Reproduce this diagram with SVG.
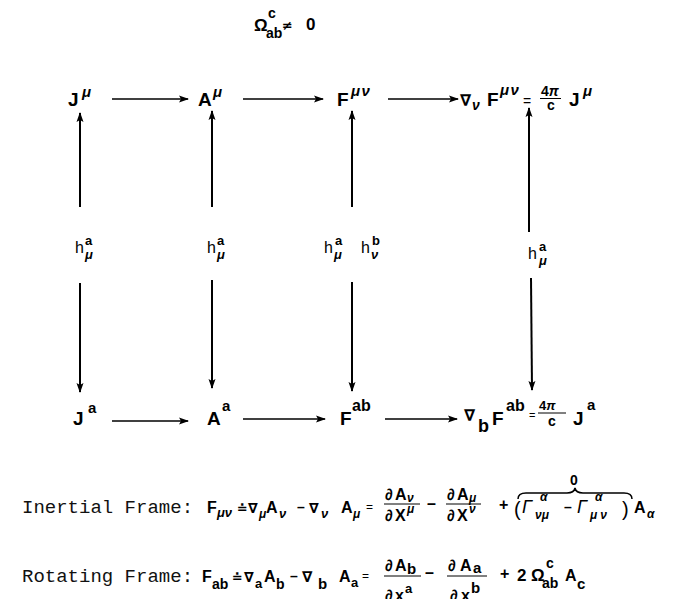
<svg xmlns="http://www.w3.org/2000/svg" width="675" height="599" viewBox="0 0 675 599">
<style>
text{fill:#000}
.m{font-family:"Liberation Sans","DejaVu Sans",sans-serif;font-weight:bold}
.r{font-family:"Liberation Sans","DejaVu Sans",sans-serif}
.d{font-family:"DejaVu Sans","Liberation Sans",sans-serif;font-weight:bold}
.i{font-style:italic}
.tt{font-family:"Liberation Mono","Courier New",monospace;font-size:19px;fill:#111}
.c line{stroke:#000;fill:none}
.hz{stroke-width:1.5}
.vt{stroke-width:2}
.bar{stroke:#000;stroke-width:1}
</style>
<defs>
<marker id="ah" markerWidth="10" markerHeight="8" refX="9" refY="4" orient="auto" markerUnits="userSpaceOnUse">
<path d="M0,0.5 L10,4 L0,7.5 L2,4 z" fill="#000"/>
</marker>
</defs>

<g id="title">
<text class="m" x="254" y="31" font-size="17">Ω</text>
<text class="m" x="268" y="18" font-size="14">c</text>
<text class="m" x="266" y="38" font-size="14">ab</text>
<text class="d" x="282" y="30" font-size="13" font-weight="normal">≠</text>
<text class="m" x="306" y="30" font-size="17">0</text>
</g>

<g id="n-J-mu">
<text class="m" x="68" y="106" font-size="19">J</text>
<text class="m i" x="82" y="97" font-size="15">μ</text>
</g>
<g id="n-A-mu">
<text class="m" x="198" y="106" font-size="19">A</text>
<text class="m i" x="213" y="97" font-size="15">μ</text>
</g>
<g id="n-F-munu">
<text class="m" x="337" y="106" font-size="19">F</text>
<text class="m i" x="351" y="96" font-size="15" letter-spacing="1.5">μν</text>
</g>
<g id="n-maxwell-mu">
<text class="d" x="460" y="106" font-size="16">∇</text>
<text class="m i" x="472" y="110" font-size="14">ν</text>
<text class="m" x="487" y="106" font-size="19">F</text>
<text class="m i" x="500" y="95" font-size="15" letter-spacing="1.5">μν</text>
<text class="r" x="523" y="106" font-size="14">=</text>
<text class="m" x="541" y="96" font-size="14">4<tspan class="i">π</tspan></text>
<line class="bar" x1="540" y1="98.5" x2="561" y2="98.5" stroke-width="1.5"/>
<text class="m" x="547" y="110" font-size="14">c</text>
<text class="m" x="569" y="106" font-size="19">J</text>
<text class="m i" x="583" y="96" font-size="15">μ</text>
</g>

<g id="n-J-a">
<text class="m" x="73" y="425" font-size="19">J</text>
<text class="m" x="88" y="413" font-size="15">a</text>
</g>
<g id="n-A-a">
<text class="m" x="207" y="425" font-size="19">A</text>
<text class="m" x="222" y="411" font-size="15">a</text>
</g>
<g id="n-F-ab">
<text class="m" x="340" y="425" font-size="19">F</text>
<text class="m" x="352" y="411" font-size="16">ab</text>
</g>
<g id="n-maxwell-a">
<text class="d" x="464" y="421" font-size="16">∇</text>
<text class="m" x="478" y="432" font-size="18">b</text>
<text class="m" x="492" y="425" font-size="19">F</text>
<text class="m" x="506" y="411" font-size="16">ab</text>
<text class="r" x="529" y="419" font-size="11">=</text>
<text class="m" x="539" y="410" font-size="13">4<tspan class="i">π</tspan></text>
<line class="bar" x1="538" y1="413" x2="566" y2="413" stroke-width="1.5"/>
<text class="m" x="548" y="426" font-size="14">c</text>
<text class="m" x="573" y="425" font-size="19">J</text>
<text class="m" x="587" y="410" font-size="15">a</text>
</g>

<g id="l-h1">
<text class="r" x="75" y="253" font-size="16">h</text>
<text class="m" x="85" y="245" font-size="13">a</text>
<text class="m i" x="85" y="259" font-size="13">μ</text>
</g>
<g id="l-h2">
<text class="r" x="207" y="253" font-size="16">h</text>
<text class="m" x="217" y="245" font-size="13">a</text>
<text class="m i" x="217" y="259" font-size="13">μ</text>
</g>
<g id="l-h3">
<text class="r" x="324" y="253" font-size="16">h</text>
<text class="m" x="335" y="245" font-size="13">a</text>
<text class="m i" x="334" y="259" font-size="13">μ</text>
<text class="r" x="361" y="253" font-size="16">h</text>
<text class="m" x="372" y="245" font-size="13">b</text>
<text class="m i" x="371" y="259" font-size="13">ν</text>
</g>
<g id="l-h4">
<text class="r" x="528" y="259" font-size="16">h</text>
<text class="m" x="539" y="251" font-size="13">a</text>
<text class="m i" x="539" y="265" font-size="13">μ</text>
</g>

<g id="connectors" class="c">
<line class="hz" x1="112" y1="99" x2="188" y2="99" marker-end="url(#ah)"/>
<line class="hz" x1="243" y1="99" x2="323" y2="99" marker-end="url(#ah)"/>
<line class="hz" x1="388" y1="99" x2="458" y2="99" marker-end="url(#ah)"/>
<line class="hz" x1="112" y1="421" x2="188" y2="421" marker-end="url(#ah)"/>
<line class="hz" x1="243" y1="419" x2="325" y2="419" marker-end="url(#ah)"/>
<line class="hz" x1="385" y1="419" x2="457" y2="419" marker-end="url(#ah)"/>
<line class="vt" x1="80" y1="207" x2="80" y2="113" marker-end="url(#ah)"/>
<line class="vt" x1="80" y1="283" x2="80" y2="392" marker-end="url(#ah)"/>
<line class="vt" x1="212" y1="207" x2="212" y2="111" marker-end="url(#ah)"/>
<line class="vt" x1="212" y1="280" x2="212" y2="388" marker-end="url(#ah)"/>
<line class="vt" x1="352" y1="207" x2="352" y2="111" marker-end="url(#ah)"/>
<line class="vt" x1="352" y1="282" x2="352" y2="391" marker-end="url(#ah)"/>
<line class="vt" x1="529" y1="232" x2="529" y2="108" marker-end="url(#ah)"/>
<line class="vt" x1="531" y1="278" x2="532" y2="390" marker-end="url(#ah)"/>
</g>

<g id="eq-inertial">
<text class="tt" x="22" y="513">Inertial Frame:</text>
<text class="m" x="207" y="513" font-size="16">F</text>
<text class="m i" x="217" y="517" font-size="13">μν</text>
<text class="d" x="237" y="513" font-size="13" font-weight="normal">≐</text>
<text class="d" x="248" y="513" font-size="14">∇</text>
<text class="m i" x="259" y="518" font-size="12">μ</text>
<text class="m" x="266" y="513" font-size="16">A</text>
<text class="m i" x="279" y="518" font-size="13">ν</text>
<text class="m" x="297" y="512" font-size="14">–</text>
<text class="d" x="309" y="513" font-size="14">∇</text>
<text class="m i" x="321" y="518" font-size="13">ν</text>
<text class="m" x="341" y="513" font-size="16">A</text>
<text class="m i" x="353" y="518" font-size="12">μ</text>
<text class="r" x="366" y="511" font-size="12">=</text>
<text class="m" x="385" y="500" font-size="16">∂</text>
<text class="m" x="395" y="500" font-size="16">A</text>
<text class="m i" x="407" y="502" font-size="12">ν</text>
<line class="bar" x1="384" y1="504" x2="420" y2="504"/>
<text class="m" x="385" y="521" font-size="16">∂</text>
<text class="m" x="395" y="521" font-size="16">X</text>
<text class="m i" x="407" y="513" font-size="12">μ</text>
<text class="m" x="427" y="509" font-size="16">–</text>
<text class="m" x="447" y="500" font-size="16">∂</text>
<text class="m" x="457" y="500" font-size="16">A</text>
<text class="m i" x="469" y="502" font-size="12">μ</text>
<line class="bar" x1="446" y1="504" x2="481" y2="504"/>
<text class="m" x="447" y="521" font-size="16">∂</text>
<text class="m" x="457" y="521" font-size="16">X</text>
<text class="m i" x="469" y="513" font-size="12">ν</text>
<text class="m" x="499" y="510" font-size="16">+</text>
<path d="M518,499 Q518,493 526,493 L567,493 Q574,493 575,488 Q576,493 583,493 L624,493 Q632,493 632,499" fill="none" stroke="#000" stroke-width="1.5"/>
<text class="m" x="570" y="485" font-size="14">0</text>
<text class="r" x="514" y="516" font-size="20">(</text>
<text class="r i" x="522" y="513" font-size="18">Γ</text>
<text class="m i" x="540" y="501" font-size="12">α</text>
<text class="m i" x="535" y="519" font-size="12">νμ</text>
<text class="m" x="564" y="512" font-size="14">–</text>
<text class="r i" x="577" y="513" font-size="18">Γ</text>
<text class="m i" x="595" y="501" font-size="12">α</text>
<text class="m i" x="590" y="519" font-size="12" letter-spacing="3">μν</text>
<text class="r" x="622" y="516" font-size="20">)</text>
<text class="m" x="634" y="513" font-size="16">A</text>
<text class="m i" x="647" y="518" font-size="12">α</text>
</g>

<g id="eq-rotating">
<text class="tt" x="22" y="582">Rotating Frame:</text>
<text class="m" x="202" y="582" font-size="16">F</text>
<text class="m" x="212" y="589" font-size="14">ab</text>
<text class="d" x="232" y="582" font-size="13" font-weight="normal">≐</text>
<text class="d" x="244" y="582" font-size="14">∇</text>
<text class="m" x="255" y="588" font-size="13">a</text>
<text class="m" x="264" y="582" font-size="16">A</text>
<text class="m" x="276" y="589" font-size="14">b</text>
<text class="m" x="290" y="581" font-size="14">–</text>
<text class="d" x="302" y="582" font-size="15">∇</text>
<text class="m" x="318" y="589" font-size="15">b</text>
<text class="m" x="339" y="582" font-size="16">A</text>
<text class="m" x="351" y="587" font-size="13">a</text>
<text class="r" x="362" y="580" font-size="12">=</text>
<text class="m" x="385" y="571" font-size="16">∂</text>
<text class="m" x="395" y="571" font-size="16">A</text>
<text class="m" x="407" y="574" font-size="15">b</text>
<line class="bar" x1="384" y1="576" x2="421" y2="576"/>
<text class="m" x="385" y="601" font-size="16">∂</text>
<text class="m" x="395" y="601" font-size="16">x</text>
<text class="m" x="405" y="593" font-size="13">a</text>
<text class="m" x="425" y="578" font-size="16">–</text>
<text class="m" x="448" y="571" font-size="16">∂</text>
<text class="m" x="460" y="571" font-size="16">A</text>
<text class="m" x="473" y="573" font-size="15">a</text>
<line class="bar" x1="447" y1="576" x2="487" y2="576"/>
<text class="m" x="450" y="601" font-size="16">∂</text>
<text class="m" x="461" y="601" font-size="16">x</text>
<text class="m" x="471" y="593" font-size="15">b</text>
<text class="m" x="500" y="579" font-size="16">+</text>
<text class="m" x="517" y="581" font-size="17">2</text>
<text class="m" x="531" y="581" font-size="17">Ω</text>
<text class="m" x="546" y="568" font-size="14">c</text>
<text class="m" x="542" y="588" font-size="14">ab</text>
<text class="m" x="565" y="581" font-size="16">A</text>
<text class="m" x="577" y="589" font-size="15">c</text>
</g>
</svg>
